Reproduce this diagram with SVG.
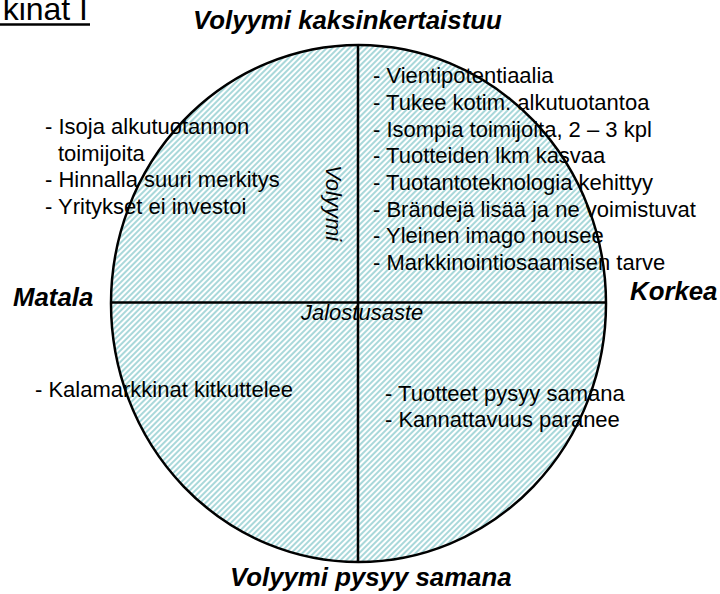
<svg xmlns="http://www.w3.org/2000/svg" width="720" height="594" viewBox="0 0 720 594">
<defs>
<pattern id="hatch" patternUnits="userSpaceOnUse" width="4" height="4" patternTransform="rotate(45)">
<rect width="4" height="4" fill="#ffffff"/>
<rect width="2" height="4" fill="#a9d8da"/>
</pattern>
</defs>
<style>
.t{font-family:"Liberation Sans",Arial,sans-serif;font-size:22px;fill:#000}
.i{font-style:italic}
.b{font-family:"Liberation Sans",Arial,sans-serif;font-size:25.8px;font-weight:bold;font-style:italic;fill:#000}
.ax{stroke:#000;stroke-width:2.5;fill:none}
</style>
<rect width="720" height="594" fill="#ffffff"/>
<g id="title">
<text class="t" x="88" y="20" text-anchor="end" style="font-size:32px">kinat I</text>
<line x1="0" y1="24.5" x2="90" y2="24.5" stroke="#000" stroke-width="2.5"/>
</g>
<g id="circle">
<ellipse cx="358.5" cy="303.5" rx="247.5" ry="258.5" fill="url(#hatch)" stroke="#000" stroke-width="2.5"/>
</g>
<g id="connectors">
<line class="ax" x1="111" y1="302.5" x2="606" y2="302.5"/>
<line class="ax" x1="358" y1="45" x2="358" y2="562"/>
</g>
<g id="label-top"><text class="b" x="193" y="29">Volyymi kaksinkertaistuu</text></g>
<g id="label-bottom"><text class="b" x="230" y="586">Volyymi pysyy samana</text></g>
<g id="label-left"><text class="b" x="13" y="306">Matala</text></g>
<g id="label-right"><text class="b" x="630" y="300">Korkea</text></g>
<g id="axis-x"><text class="t i" x="301" y="320">Jalostusaste</text></g>
<g id="axis-y"><text class="t i" transform="translate(326,165) rotate(90)">Volyymi</text></g>
<g id="q-top-left">
<text class="t" x="45" y="134">- Isoja alkutuotannon</text>
<text class="t" x="58" y="160.5">toimijoita</text>
<text class="t" x="45" y="187">- Hinnalla suuri merkitys</text>
<text class="t" x="45" y="213.5">- Yritykset ei investoi</text>
</g>
<g id="q-top-right">
<text class="t" x="373" y="83">- Vientipotentiaalia</text>
<text class="t" x="373" y="110">- Tukee kotim. alkutuotantoa</text>
<text class="t" x="373" y="136.5">- Isompia toimijoita, 2 – 3 kpl</text>
<text class="t" x="373" y="163">- Tuotteiden lkm kasvaa</text>
<text class="t" x="373" y="190">- Tuotantoteknologia kehittyy</text>
<text class="t" x="373" y="216.5">- Brändejä lisää ja ne voimistuvat</text>
<text class="t" x="373" y="243">- Yleinen imago nousee</text>
<text class="t" x="373" y="270">- Markkinointiosaamisen tarve</text>
</g>
<g id="q-bottom-left">
<text class="t" x="35" y="397">- Kalamarkkinat kitkuttelee</text>
</g>
<g id="q-bottom-right">
<text class="t" x="385" y="401">- Tuotteet pysyy samana</text>
<text class="t" x="385" y="427">- Kannattavuus paranee</text>
</g>
</svg>
